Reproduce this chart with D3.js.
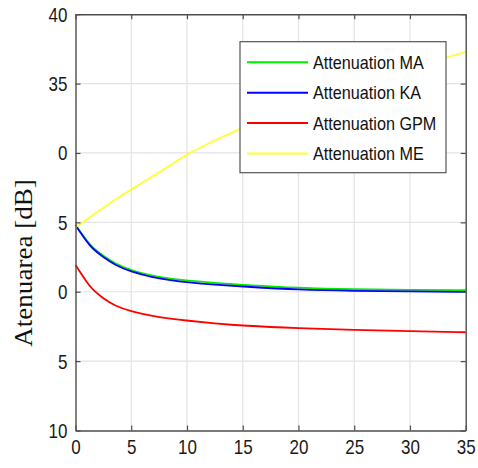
<!DOCTYPE html>
<html>
<head>
<meta charset="utf-8">
<script src="https://cdn.jsdelivr.net/npm/d3@7"></script>
<style>
  html, body { margin: 0; padding: 0; background: #fff; }
  svg { display: block; }
</style>
</head>
<body>
<svg id="chart" width="478" height="468"></svg>
<script>
// Distance axis (shared by all four curves)
const xs = [0, 1, 1.5, 2.5, 3.5, 5, 7, 8.5, 10, 12.5, 15, 20, 25, 30, 35];

// Attenuation series [dB]
const attMA  = [24.8, 23.7, 23.2, 22.58, 22.05, 21.52, 21.12, 20.94, 20.8, 20.63, 20.5, 20.27, 20.17, 20.13, 20.11];
const attKA  = [24.8, 23.62, 23.12, 22.48, 21.95, 21.42, 21.02, 20.83, 20.68, 20.5, 20.38, 20.14, 20.06, 20.02, 19.99];
const attGPM = [21.93, 20.68, 20.18, 19.5, 19.0, 18.57, 18.24, 18.06, 17.92, 17.72, 17.55, 17.37, 17.25, 17.17, 17.08];
const attME  = [24.65, 25.2, 25.5, 26.05, 26.6, 27.38, 28.35, 29.1, 29.93, 30.9, 31.85, 33.4, 34.9, 36.15, 37.28];

const seriesNames  = ["Attenuation MA", "Attenuation KA", "Attenuation GPM", "Attenuation ME"];
const seriesColors = ["#00ee00", "#0000ff", "#ff0000", "#ffff33"];

// Tick positions and their printed labels
const xTicks = [0, 5, 10, 15, 20, 25, 30, 35];
const yTicks = [40, 35, 30, 25, 20, 15, 10];
const yTickLabels = ["40", "35", "0", "5", "0", "5", "10"];

const yTitle = "Atenuarea [dB]";

const svg = d3.select("#chart");
const plot = { left: 75.5, right: 465.7, top: 14.2, bottom: 430.5 };

const x = d3.scaleLinear().domain([0, 35]).range([plot.left, plot.right]);
const y = d3.scaleLinear().domain([10, 40]).range([plot.bottom, plot.top]);

const axisColor = "#4d4d4d";
const gridColor = "#e3e3e3";

// Grid
const grid = svg.append("g");
grid.selectAll("line.gx").data(xTicks.slice(1, -1)).join("line")
  .attr("x1", d => x(d)).attr("x2", d => x(d))
  .attr("y1", plot.top).attr("y2", plot.bottom)
  .attr("stroke", gridColor).attr("stroke-width", 1.2);
grid.selectAll("line.gy").data(yTicks.slice(1, -1)).join("line")
  .attr("x1", plot.left).attr("x2", plot.right)
  .attr("y1", d => y(d)).attr("y2", d => y(d))
  .attr("stroke", gridColor).attr("stroke-width", 1.2);

// Curves
const line = d3.line()
  .x((d, i) => x(xs[i]))
  .y(d => y(d))
  .curve(d3.curveBasis);

const allSeries = [attMA, attKA, attGPM, attME];
svg.append("g").selectAll("path").data(allSeries).join("path")
  .attr("d", d => line(d))
  .attr("fill", "none")
  .attr("stroke", (d, i) => seriesColors[i])
  .attr("stroke-width", 1.8)
  .attr("stroke-linejoin", "round");

// Axes: box with inward ticks on all four sides
const tickLen = 5;
const axBottom = d3.axisBottom(x).tickValues(xTicks).tickSizeInner(-tickLen).tickSizeOuter(0).tickPadding(8);
const axLeft = d3.axisLeft(y).tickValues(yTicks)
  .tickFormat(d => yTickLabels[yTicks.indexOf(d)])
  .tickSizeInner(-tickLen).tickSizeOuter(0).tickPadding(8);
const axTop = d3.axisTop(x).tickValues(xTicks).tickSizeInner(-tickLen).tickSizeOuter(0).tickFormat("");
const axRight = d3.axisRight(y).tickValues(yTicks).tickSizeInner(-tickLen).tickSizeOuter(0).tickFormat("");

function styleAxis(g) {
  g.select(".domain").attr("stroke", axisColor).attr("stroke-width", 1.4);
  g.selectAll(".tick line").attr("stroke", axisColor).attr("stroke-width", 1.2);
  g.selectAll(".tick text")
    .attr("fill", "#1a1a1a")
    .style("font-family", "'Liberation Sans', Arial, sans-serif")
    .style("font-size", "20px");
}

const gb = svg.append("g").attr("transform", `translate(0,${plot.bottom})`).call(axBottom).call(styleAxis);
gb.selectAll(".tick text")
  .attr("y", null).attr("dy", null)
  .attr("transform", "translate(0,23) scale(0.85,1)")
  .attr("text-anchor", "middle");

const gl = svg.append("g").attr("transform", `translate(${plot.left},0)`).call(axLeft).call(styleAxis);
gl.selectAll(".tick text")
  .attr("x", null).attr("dy", null)
  .attr("transform", "translate(-8,7) scale(0.85,1)")
  .attr("text-anchor", "end");

svg.append("g").attr("transform", `translate(0,${plot.top})`).call(axTop).call(styleAxis);
svg.append("g").attr("transform", `translate(${plot.right},0)`).call(axRight).call(styleAxis);

// Y axis title
svg.append("text")
  .attr("transform", "translate(32,263) rotate(-90) scale(1.04,1)")
  .attr("text-anchor", "middle")
  .style("font-family", "'Liberation Serif', 'Times New Roman', serif")
  .style("font-size", "26px")
  .attr("fill", "#111")
  .text(yTitle);

// Legend
const legend = svg.append("g");
legend.append("rect")
  .attr("x", 240).attr("y", 41.7).attr("width", 206).attr("height", 131)
  .attr("fill", "#fff").attr("stroke", "#555").attr("stroke-width", 1.2);
const rows = legend.selectAll("g.row").data(seriesNames).join("g")
  .attr("transform", (d, i) => `translate(0,${62.3 + i * 30.4})`);
rows.append("line")
  .attr("x1", 247).attr("x2", 308).attr("y1", 0).attr("y2", 0)
  .attr("stroke", (d, i) => seriesColors[i]).attr("stroke-width", 2);
rows.append("text")
  .attr("transform", "translate(313,6.5) scale(0.9,1)")
  .style("font-family", "'Liberation Sans', Arial, sans-serif")
  .style("font-size", "18px")
  .attr("fill", "#111")
  .text(d => d);
</script>
</body>
</html>
